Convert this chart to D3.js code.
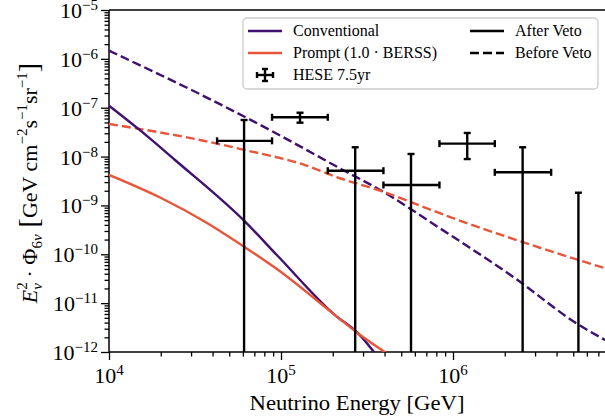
<!DOCTYPE html>
<html>
<head>
<meta charset="utf-8">
<script src="https://cdn.jsdelivr.net/npm/d3@7"></script>
<style>
  html, body { margin: 0; padding: 0; background: #fff; }
  svg { display: block; }
  text { font-family: "Liberation Serif", "DejaVu Serif", serif; fill: #000; }
</style>
</head>
<body>
<svg id="chart" width="605" height="416"></svg>
<script>
// E^2 flux vs neutrino energy: atmospheric conventional / prompt, before and
// after the self-veto, with the HESE 7.5 yr unfolded points on top.

const CONV_COLOR = "#41106f";
const PROMPT_COLOR = "#e8553b";

// [energy GeV, E^2 flux]
const convAfter = [
  [1e4, 1.1e-7], [1.55e4, 3.23e-8], [2.42e4, 8.5e-9], [6.18e4, 4.65e-10],
  [9.64e4, 9.0e-11], [2.06e5, 5.7e-12], [2.81e5, 2.4e-12], [3.52e5, 9.4e-13],
];
const convBefore = [
  [1e4, 1.47e-6], [3.95e4, 1.44e-7], [8.83e4, 3.34e-8], [2.2e5, 5.75e-9],
  [3.92e5, 1.91e-9], [8.4e5, 3.4e-10], [2.23e6, 3.48e-11], [5.41e6, 3.57e-12],
  [7.66e6, 1.76e-12],
];
const promptAfter = [
  [1e4, 4.2e-9], [2.02e4, 1.4e-9], [3.61e4, 4.65e-10], [6.18e4, 1.39e-10],
  [9.64e4, 4.77e-11], [2.06e5, 5.7e-12], [2.81e5, 2.4e-12], [4.1e5, 9.5e-13],
];
const promptBefore = [
  [1e4, 4.65e-8], [3.61e4, 2.08e-8], [6.18e4, 1.36e-8], [1.38e5, 6.7e-9],
  [2.2e5, 3.6e-9], [3.94e5, 1.91e-9], [5.62e5, 1.19e-9], [1.0e6, 5.5e-10],
  [2.5e6, 1.81e-10], [5.35e6, 7.65e-11], [7.66e6, 5.2e-11],
];

// HESE 7.5yr points (0 means no central value / lower edge at zero)
const heseE    = [6.1e4, 1.29e5, 2.70e5, 5.7e5, 1.21e6, 2.54e6, 5.36e6];
const heseELo  = [4.25e4, 8.87e4, 1.87e5, 3.94e5, 8.34e5, 1.75e6, 3.72e6];
const heseEHi  = [8.87e4, 1.87e5, 3.94e5, 8.34e5, 1.75e6, 3.72e6, 7.7e6];
const heseFlux = [2.1e-8, 6.37e-8, 5.14e-9, 2.62e-9, 1.84e-8, 4.76e-9, 0];
const heseUp   = [5.6e-8, 7.9e-8, 1.55e-8, 1.13e-8, 3.04e-8, 1.55e-8, 1.82e-9];
const heseDown = [0, 4.94e-8, 0, 0, 8.9e-9, 0, 0];

const xMajor = [1e4, 1e5, 1e6];
const xMajorExp = ["4", "5", "6"];
const yMajor = [1e-12, 1e-11, 1e-10, 1e-9, 1e-8, 1e-7, 1e-6, 1e-5];
const yMajorExp = ["−12", "−11", "−10", "−9", "−8", "−7", "−6", "−5"];

const legendRows = [
  { label: "Conventional", kind: "line", color: CONV_COLOR },
  { label: "Prompt (1.0 · BERSS)", kind: "line", color: PROMPT_COLOR },
  { label: "HESE 7.5yr", kind: "err" },
];
const legendStyles = [
  { label: "After Veto", dash: null },
  { label: "Before Veto", dash: "9,4" },
];

const m = { left: 109, top: 10, right: 605, bottom: 352 };
const svg = d3.select("#chart");

const x = d3.scaleLog().domain([1e4, Math.pow(10, 4 + (m.right - m.left) / 172)]).range([m.left, m.right]);
const y = d3.scaleLog().domain([1e-12, 1e-5]).range([m.bottom, m.top]);

svg.append("defs").append("clipPath").attr("id", "plot-clip")
  .append("rect").attr("x", m.left).attr("y", m.top)
  .attr("width", m.right - m.left + 5).attr("height", m.bottom - m.top);

function minorTicks(lo, hi) {
  const out = [];
  for (let e = lo; e < hi; e++) for (let k = 2; k <= 9; k++) out.push(k * Math.pow(10, e));
  return out;
}

// axes: ticks only, labels are added by hand for the superscripts
const xMinor = minorTicks(4, 7).filter(v => v <= x.domain()[1]);
const yMinor = minorTicks(-12, -5);

const gx = svg.append("g").attr("transform", `translate(0,${m.bottom})`);
gx.call(d3.axisBottom(x).tickValues(xMajor).tickSize(8).tickFormat(""));
gx.append("g").call(d3.axisBottom(x).tickValues(xMinor).tickSize(4.5).tickFormat(""));
const gy = svg.append("g").attr("transform", `translate(${m.left},0)`);
gy.call(d3.axisLeft(y).tickValues(yMajor).tickSize(8).tickFormat(""));
gy.append("g").call(d3.axisLeft(y).tickValues(yMinor).tickSize(4.5).tickFormat(""));
svg.selectAll(".domain").remove();
svg.selectAll(".tick line").attr("stroke", "#000").attr("stroke-width", 1.3);

// spines
svg.append("line").attr("x1", m.left).attr("x2", m.left).attr("y1", m.top).attr("y2", m.bottom)
  .attr("stroke", "#000").attr("stroke-width", 1.5);
svg.append("line").attr("x1", m.left).attr("x2", m.right).attr("y1", m.bottom).attr("y2", m.bottom)
  .attr("stroke", "#000").attr("stroke-width", 1.5);
svg.append("line").attr("x1", m.left).attr("x2", m.right).attr("y1", m.top).attr("y2", m.top)
  .attr("stroke", "#000").attr("stroke-width", 1.5);

function powLabel(sel, exp) {
  sel.append("tspan").text("10");
  sel.append("tspan").attr("dy", -8).attr("font-size", 15).text(exp);
}

xMajor.forEach((v, i) => {
  svg.append("text").attr("x", x(v)).attr("y", 383).attr("text-anchor", "middle")
    .attr("font-size", 22).call(powLabel, xMajorExp[i]);
});
yMajor.forEach((v, i) => {
  svg.append("text").attr("x", 98).attr("y", y(v) + 8).attr("text-anchor", "end")
    .attr("font-size", 22).call(powLabel, yMajorExp[i]);
});

svg.append("text").attr("x", (m.left + m.right) / 2).attr("y", 410).attr("text-anchor", "middle")
  .attr("font-size", 21).attr("textLength", 215).attr("lengthAdjust", "spacingAndGlyphs")
  .text("Neutrino Energy [GeV]");

// y label
const yl = svg.append("text").attr("transform", "translate(37,183) rotate(-90)")
  .attr("text-anchor", "middle").attr("font-size", 22);
yl.append("tspan").attr("font-style", "italic").text("E");
yl.append("tspan").attr("dy", -10).attr("font-size", 15).text("2");
yl.append("tspan").attr("dx", -7.5).attr("dy", 15).attr("font-size", 15).attr("font-style", "italic").text("ν");
yl.append("tspan").attr("dy", -5).text(" · Φ");
yl.append("tspan").attr("dy", 5).attr("font-size", 15).text("6");
yl.append("tspan").attr("font-size", 15).attr("font-style", "italic").text("ν");
yl.append("tspan").attr("dy", -4).attr("font-size", 28).text(" [");
yl.append("tspan").attr("dy", -1).text("GeV cm");
yl.append("tspan").attr("dy", -10).attr("font-size", 15).text("−2");
yl.append("tspan").attr("dy", 10).text("s");
yl.append("tspan").attr("dy", -10).attr("font-size", 15).text("−1");
yl.append("tspan").attr("dy", 10).text("sr");
yl.append("tspan").attr("dy", -10).attr("font-size", 15).text("−1");
yl.append("tspan").attr("dy", 11).attr("font-size", 28).text("]");

// curves
const line = d3.line().x(d => x(d[0])).y(d => y(d[1])).curve(d3.curveMonotoneX);
const plot = svg.append("g").attr("clip-path", "url(#plot-clip)");
const curves = [
  { data: convBefore, color: CONV_COLOR, dash: "9,4" },
  { data: promptBefore, color: PROMPT_COLOR, dash: "9,4" },
  { data: convAfter, color: CONV_COLOR, dash: null },
  { data: promptAfter, color: PROMPT_COLOR, dash: null },
];
curves.forEach(c => {
  plot.append("path").attr("d", line(c.data))
    .attr("fill", "none").attr("stroke", c.color).attr("stroke-width", 2.4)
    .attr("stroke-dasharray", c.dash);
});

// HESE error bars
const yBottom = y.range()[0] + 2;
const cap = 3.5;
heseE.forEach((e, i) => {
  const g = plot.append("g").attr("stroke", "#000").attr("stroke-width", 2.4);
  const cx = x(e);
  const yTop = y(heseUp[i]);
  const yLow = heseDown[i] > 0 ? y(heseDown[i]) : yBottom;
  g.append("line").attr("x1", cx).attr("x2", cx).attr("y1", yTop).attr("y2", yLow);
  g.append("line").attr("x1", cx - cap).attr("x2", cx + cap).attr("y1", yTop).attr("y2", yTop);
  if (heseDown[i] > 0)
    g.append("line").attr("x1", cx - cap).attr("x2", cx + cap).attr("y1", yLow).attr("y2", yLow);
  if (heseFlux[i] > 0) {
    const cy = y(heseFlux[i]);
    const x0 = x(heseELo[i]), x1 = x(heseEHi[i]);
    g.append("line").attr("x1", x0).attr("x2", x1).attr("y1", cy).attr("y2", cy);
    g.append("line").attr("x1", x0).attr("x2", x0).attr("y1", cy - cap).attr("y2", cy + cap);
    g.append("line").attr("x1", x1).attr("x2", x1).attr("y1", cy - cap).attr("y2", cy + cap);
  }
});

// legend
const lg = svg.append("g");
lg.append("rect").attr("x", 243).attr("y", 18).attr("width", 355).attr("height", 71).attr("rx", 4)
  .attr("fill", "#fff").attr("fill-opacity", 0.85).attr("stroke", "#cccccc").attr("stroke-width", 1.3);
legendRows.forEach((r, i) => {
  const ry = 31 + i * 22;
  if (r.kind === "line") {
    lg.append("line").attr("x1", 248).attr("x2", 282).attr("y1", ry).attr("y2", ry)
      .attr("stroke", r.color).attr("stroke-width", 2.4);
  } else {
    const eg = lg.append("g").attr("stroke", "#000").attr("stroke-width", 2.4);
    eg.append("line").attr("x1", 265).attr("x2", 265).attr("y1", ry - 6).attr("y2", ry + 6);
    eg.append("line").attr("x1", 257).attr("x2", 273).attr("y1", ry).attr("y2", ry);
    eg.append("line").attr("x1", 262).attr("x2", 268).attr("y1", ry - 6).attr("y2", ry - 6);
    eg.append("line").attr("x1", 262).attr("x2", 268).attr("y1", ry + 6).attr("y2", ry + 6);
    eg.append("line").attr("x1", 257).attr("x2", 257).attr("y1", ry - 3).attr("y2", ry + 3);
    eg.append("line").attr("x1", 273).attr("x2", 273).attr("y1", ry - 3).attr("y2", ry + 3);
  }
  lg.append("text").attr("x", 293).attr("y", ry + 5).attr("font-size", 16).text(r.label);
});
legendStyles.forEach((s, i) => {
  const ry = 31 + i * 22;
  lg.append("line").attr("x1", 470).attr("x2", 504).attr("y1", ry).attr("y2", ry)
    .attr("stroke", "#000").attr("stroke-width", 2.4).attr("stroke-dasharray", s.dash);
  lg.append("text").attr("x", 515).attr("y", ry + 5).attr("font-size", 16).text(s.label);
});
</script>
</body>
</html>
